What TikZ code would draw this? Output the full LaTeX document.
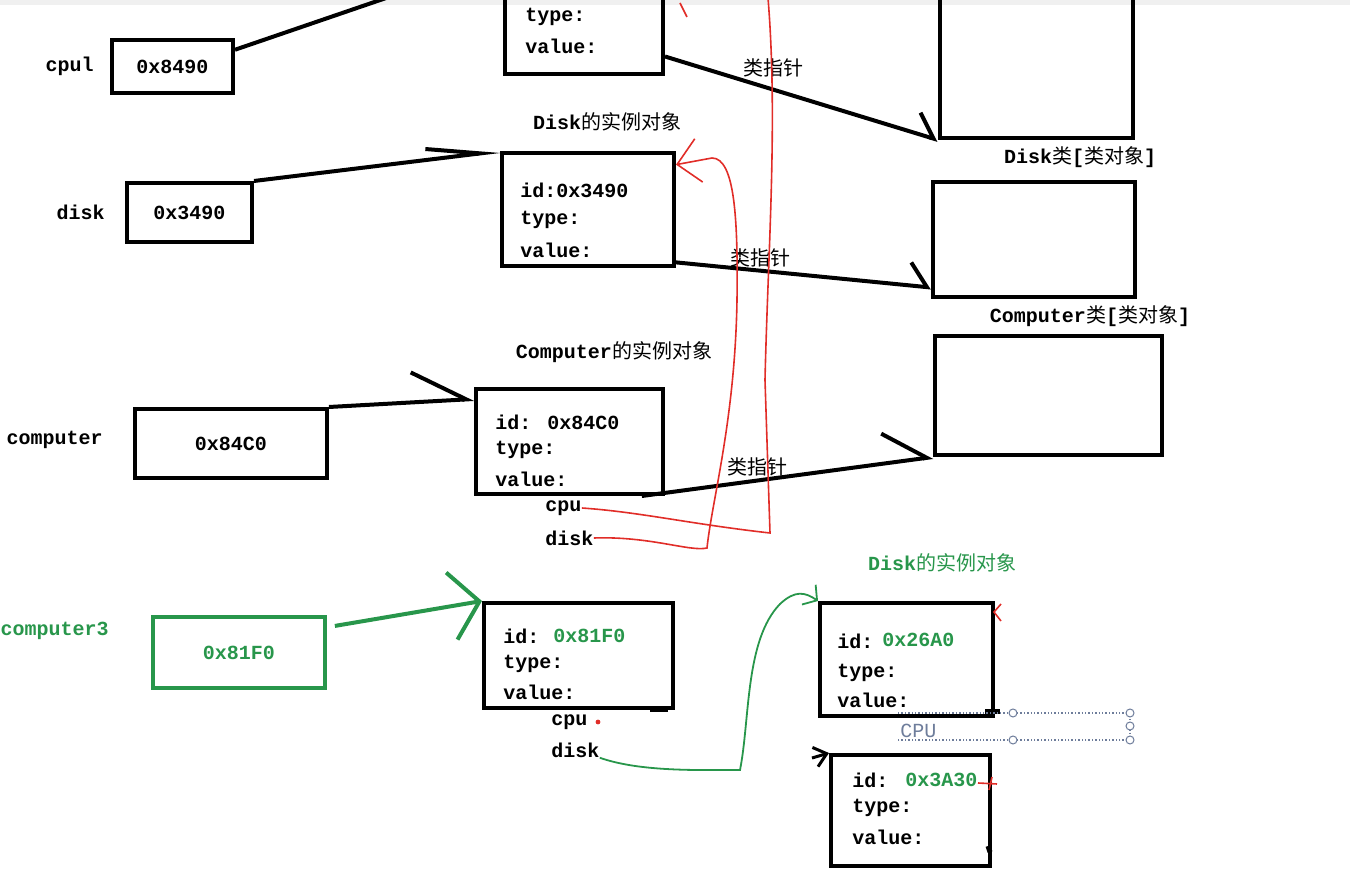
\documentclass[tikz,border=0pt]{standalone}
\usepackage{fontspec}
\setmainfont{Liberation Mono}
\newfontfamily\cjk{Noto Sans CJK SC}
\usetikzlibrary{positioning}
\usetikzlibrary{arrows.meta}
\definecolor{penred}{RGB}{225,45,40}
\definecolor{pengreen}{RGB}{40,150,75}
\definecolor{selgray}{RGB}{110,125,155}
\newcommand{\zh}[1]{{\cjk\mdseries #1}}
\tikzset{
	box/.style={draw, line width=2pt, inner sep=0pt, font=\bfseries},
	gbox/.style={box, draw=pengreen, text=pengreen},
	field/.style={anchor=west, inner sep=0pt, font=\bfseries},
	title/.style={inner sep=0pt, font=\bfseries},
	ptr/.style 2 args={draw, line width=2pt, -{Straight Barb[harpoon, length=#1, width=#2]}},
	redpen/.style={draw=penred, line width=0.8pt},
	greenpen/.style={draw=pengreen, line width=0.9pt}
}

\begin{document}
\begin{tikzpicture}[x=0.5pt, y=-0.5pt]
	\useasboundingbox (0,0) rectangle (1350,886);
	\fill[gray!12] (0,0) rectangle (1350,5);

	% references on the left
	\node[box, minimum width=60.5pt, minimum height=26.5pt] (cpuref) at (172.5,66.5) {0x8490};
	\node[title, left=8pt of cpuref] (cpulabel) {cpul};
	\node[box, minimum width=62.5pt, minimum height=29.5pt] (diskref) at (189.5,212.5) {0x3490};
	\node[title, left=10pt of diskref] (disklabel) {disk};
	\node[box, minimum width=96pt, minimum height=34.5pt] (compref) at (231,443.5) {0x84C0};
	\node[title, left=15pt of compref, yshift=2pt] (complabel) {computer};
	\node[gbox, minimum width=86pt, minimum height=35.5pt] (compthreeref) at (239,652.5) {0x81F0};
	\node[title, text=pengreen, left=21pt of compthreeref, yshift=11pt] (compthreelabel) {computer3};

	% instance objects
	\node[box, minimum width=79pt, minimum height=57pt] (cpuobj) at (584,17) {};
	\node[field] at (525,17) {type:};
	\node[field] at (525,46) {value:};

	\node[title] at (607,122) {Disk\zh{的实例对象}};
	\node[box, minimum width=86pt, minimum height=56.5pt] (diskobj) at (588,209.5) {};
	\node[field] at (520,190) {id:0x3490};
	\node[field] at (520,220) {type:};
	\node[field] at (520,250) {value:};

	\node[title] at (614,352) {Computer\zh{的实例对象}};
	\node[box, minimum width=93.5pt, minimum height=52.5pt] (compobj) at (569.5,441.5) {};
	\node[field] at (495,422) {id: 0x84C0};
	\node[field] at (495,450) {type:};
	\node[field] at (495,479) {value:};
	\node[field] (cpuf) at (545,508) {cpu};
	\node[field] (diskf) at (545,538) {disk};

	\node[box, minimum width=94.5pt, minimum height=52.5pt] (compthreeobj) at (578.5,655.5) {};
	\node[field] at (503,636) {id:};
	\node[field, text=pengreen] at (553,636) {0x81F0};
	\node[field] at (503,664) {type:};
	\node[field] at (503,692) {value:};
	\node[field] (cthreecpu) at (551,722) {cpu};
	\node[field] (cthreedisk) at (551,750) {disk};

	\node[title, text=pengreen] at (942,563) {Disk\zh{的实例对象}};
	\node[box, minimum width=86.5pt, minimum height=56.5pt] (diskthreeobj) at (906.5,659.5) {};
	\node[field] at (837,641) {id:};
	\node[field, text=pengreen] at (882,640) {0x26A0};
	\node[field] at (837,673) {type:};
	\node[field] at (837,700) {value:};

	\node[box, minimum width=79.5pt, minimum height=55.5pt] (cputhreeobj) at (910.5,810.5) {};
	\node[field] at (852,780) {id:};
	\node[field, text=pengreen] at (905,780) {0x3A30};
	\node[field] at (852,808) {type:};
	\node[field] at (852,837) {value:};

	% class objects
	\node[box, minimum width=96.5pt, minimum height=99pt] (cpucls) at (1036.5,39) {};
	\node[title] at (1080,157) {Disk\zh{类}[\zh{类对象}]};
	\node[box, minimum width=101pt, minimum height=57.5pt] (diskcls) at (1034,239.5) {};
	\node[title] at (1090,316) {Computer\zh{类}[\zh{类对象}]};
	\node[box, minimum width=113.5pt, minimum height=59.5pt] (compcls) at (1048.5,395.5) {};

	% pointers
	\draw[line width=2pt] (cpuref.15) -- (cpuobj.north west);
	\draw[ptr={27pt}{11pt}] (diskref.north east) -- (diskobj.north west);
	\draw[ptr={27pt}{30pt}] (compref.north east) -- (compobj.156);
	\draw[ptr={10pt}{21pt}] (cpuobj.-26) -- (cpucls.south west);
	\draw[ptr={9pt}{23pt}] (diskobj.-31) -- (diskcls.205);
	\draw[ptr={21pt}{30pt}] (compobj.-37) -- (compcls.south west);
	\node[title] at (773,68) {\zh{类指针}};
	\node[title] at (760,258) {\zh{类指针}};
	\node[title] at (757,467) {\zh{类指针}};

	% red pen
	\coordinate (cputop) at (768,-2);
	\draw[redpen] (cpuf.east) .. controls (640,512) and (690,524) .. (770,533)
		-- (765,380) .. controls (768,250) and (778,120) .. (cputop);
	\draw[redpen, -{Straight Barb[length=11pt, width=22pt]}] (diskf.east)
		.. controls (650,536) and (690,552) .. (707,548)
		.. controls (712,500) and (735,420) .. (737,300)
		.. controls (738,220) and (735,158) .. (712,158)
		-- (diskobj.27);
	\draw[redpen] (680,3) -- (687,17);
	\fill[penred] (598,722) circle (1.2pt);
	\draw[redpen] (1001,604) -- (994,612) -- (1001,621);
	\draw[redpen] (978,783) -- (997,784);
	\draw[redpen] (992,777) -- (989,790);

	% green pen
	\draw[pengreen, line width=2pt, shorten <=4pt, -{Straight Barb[length=14pt, width=34pt]}]
		(compthreeref.16) -- (compthreeobj.north west);
	\draw[greenpen, -{Straight Barb[length=5pt, width=12pt]}] (cthreedisk.south east)
		.. controls (640,772) and (700,770) .. (740,770)
		.. controls (750,720) and (745,640) .. (780,604)
		.. controls (795,590) and (805,592) .. (diskthreeobj.north west);

	% black marks
	\coordinate (cthreein) at (812,758);
	\draw[line width=1.5pt, -{Straight Barb[length=6pt, width=10pt]}] (cthreein) -- (cputhreeobj.north west);
	\draw[line width=2.5pt] (650,710) -- (668,710);
	\draw[line width=2.5pt] (985,712) -- (1000,712);
	\draw[line width=2.5pt] (988,846) -- (990,852);

	% text box being edited
	\draw[selgray, densely dotted, line width=0.7pt] (898,713) -- (1130,713) -- (1130,740) -- (898,740);
	\foreach \p in {(1013,713),(1130,713),(1130,726),(1013,740),(1130,740)}
		\draw[selgray, fill=white, line width=0.5pt] \p circle (2pt);
	\node[field, text=selgray, font=\normalfont] (seltext) at (900,731) {CPU};
\end{tikzpicture}
\end{document}
